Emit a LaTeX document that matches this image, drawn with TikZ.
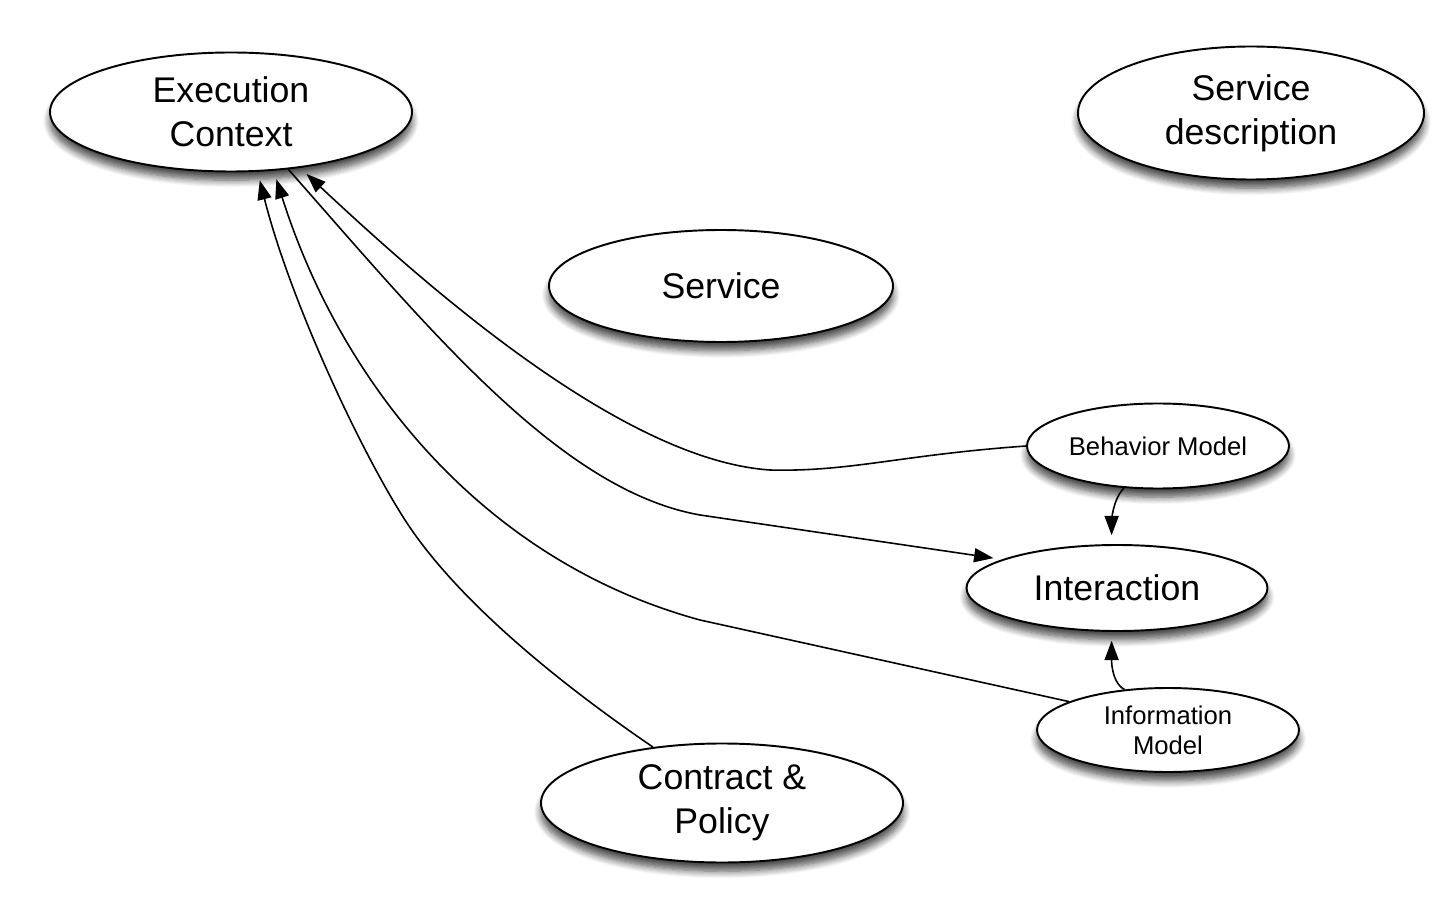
\documentclass[tikz,border=0pt]{standalone}
\usepackage{fontspec}
\setmainfont{Liberation Sans}
\usetikzlibrary{shapes.geometric, arrows.meta, shadows.blur}
\tikzstyle{concept} = [ellipse, draw=black, line width=1.1pt, fill=white, inner sep=0pt, align=center, blur shadow={shadow xshift=0pt, shadow yshift=-5pt, shadow blur radius=4pt, shadow blur steps=8, shadow opacity=70}]
\tikzstyle{bigtext} = [font=\fontsize{20.3}{25}\selectfont]
\tikzstyle{smalltext} = [font=\fontsize{14.6}{17}\selectfont]
\tikzstyle{link} = [line width=0.9pt]
\tikzstyle{arrow} = [link, -{Triangle[length=11pt, width=8pt]}, shorten >=5pt]

\begin{document}
\begin{tikzpicture}
\useasboundingbox (0,0) rectangle (29.04,-18.08);
\node (exec) [concept, bigtext, minimum width=7.24cm, minimum height=2.38cm] at (4.62,-2.24) {Execution\\Context};
\node (sdesc) [concept, bigtext, minimum width=6.92cm, minimum height=2.66cm] at (25.02,-2.26) {Service\\description};
\node (service) [concept, bigtext, minimum width=6.88cm, minimum height=2.24cm] at (14.42,-5.72) {Service};
\node (behavior) [concept, smalltext, minimum width=5.24cm, minimum height=1.70cm] at (23.16,-8.92) {Behavior Model};
\node (interact) [concept, bigtext, minimum width=6.02cm, minimum height=1.72cm] at (22.34,-11.76) {Interaction};
\node (info) [concept, smalltext, minimum width=5.24cm, minimum height=1.68cm] at (23.36,-14.60) {Information\\Model};
\node (contract) [concept, bigtext, minimum width=7.24cm, minimum height=2.38cm] at (14.44,-16.06) {Contract \&\\Policy};

\draw [arrow] (contract.141) .. controls (10.8,-13.4) and (9.0,-11.8) .. (8.1,-10.4) .. controls (7.2,-9.0) and (5.8,-6.0) .. (exec.-66);
\draw [arrow] (info.164) -- (14.0,-12.4) .. controls (9.6,-11.2) and (6.8,-7.6) .. (exec.-54);
\draw [arrow] (exec.-45) .. controls (8.6,-6.6) and (11.2,-9.8) .. (14.0,-10.3) -- (interact.166);
\draw [arrow] (behavior.180) .. controls (18.0,-9.1) and (17.0,-9.44) .. (15.4,-9.4) .. controls (12.4,-9.2) and (8.4,-5.6) .. (exec.-39);
\draw [arrow] (behavior.-129) .. controls +(-0.25,-0.25) and +(0,0.35) .. (interact.97);
\draw [arrow] (info.137) .. controls +(-0.3,0.15) and +(0,-0.4) .. (interact.-97);
\end{tikzpicture}
\end{document}
